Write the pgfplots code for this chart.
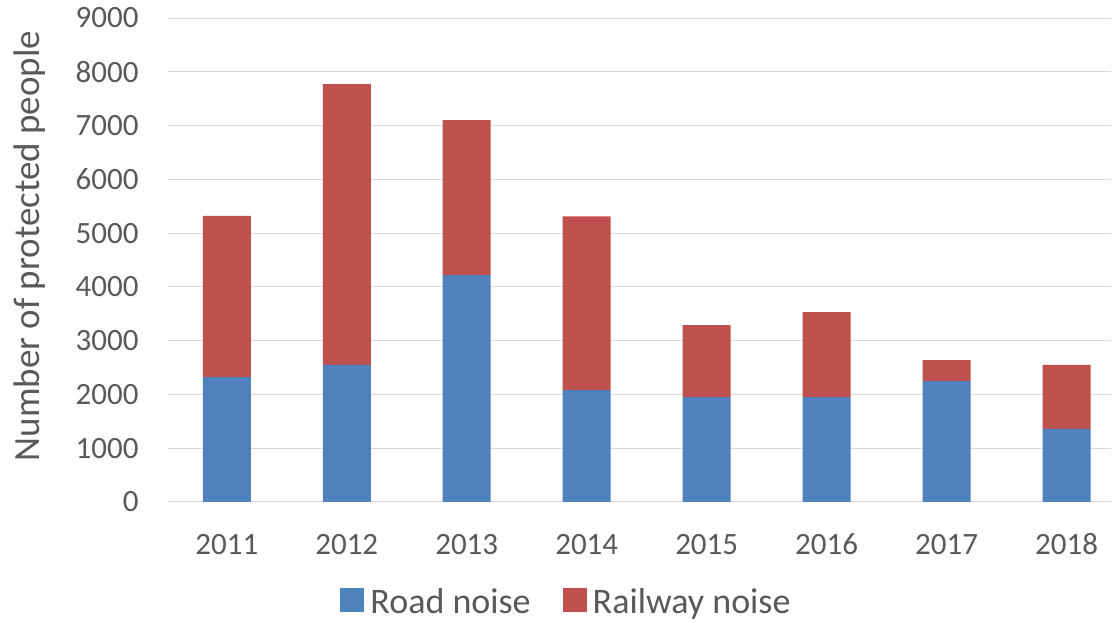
\documentclass[border=0pt]{standalone}
\usepackage{fontspec}
\setmainfont{Carlito}
\usepackage{pgfplots}
\pgfplotsset{compat=1.18}
\definecolor{roadblue}{HTML}{4F81BD}
\definecolor{railred}{HTML}{C0504D}
\definecolor{gridgray}{HTML}{D9D9D9}
\definecolor{txtgray}{HTML}{595959}
\begin{document}
\begin{tikzpicture}
\begin{axis}[
  name=ax,
  at={(0,0)}, anchor=south west,
  scale only axis,
  width=943pt, height=484pt,
  ybar stacked,
  bar width=48pt,
  xmin=-0.49, xmax=7.37,
  ymin=0, ymax=9000,
  ytick={0,1000,...,9000},
  xtick={0,...,7},
  xticklabels={2011,2012,2013,2014,2015,2016,2017,2018},
  ymajorgrids,
  grid style={gridgray, line width=1pt},
  axis x line*=bottom,
  axis y line*=left,
  y axis line style={draw=none},
  x axis line style={gridgray, line width=1pt, -},
  major tick length=0pt,
  /pgf/number format/assume math mode=true,
  /pgf/number format/1000 sep={},
  tick label style={font=\fontsize{31}{36}\selectfont, text=txtgray},
  yticklabel style={xshift=-26pt},
  xticklabel style={yshift=-28pt, text height=21pt, text depth=0pt},
  ylabel={Number of protected people},
  every axis y label/.style={at={(axis description cs:0,0.5)}, xshift=-138pt, yshift=14pt, rotate=90, anchor=center, font=\fontsize{37}{40}\selectfont, text=txtgray},
  legend style={draw=none, fill=none, inner sep=0pt, at={(0.4226,-0.206)}, anchor=center, font=\fontsize{36}{40}\selectfont, text=txtgray, legend columns=2, /tikz/every even column/.append style={column sep=30pt}},
  legend image code/.code={\fill[#1] (0pt,-10pt) rectangle (24pt,14pt); \path (0pt,0pt) -- (28pt,0pt);},
]
\addplot[fill=roadblue, draw=none] coordinates {(0,2320) (1,2550) (2,4220) (3,2080) (4,1950) (5,1950) (6,2250) (7,1360)};
\addplot[fill=railred, draw=none] coordinates {(0,3000) (1,5220) (2,2880) (3,3230) (4,1340) (5,1580) (6,390) (7,1190)};
\legend{Road noise, Railway noise}
\end{axis}
\path (ax.south west) ++(-168pt,-121pt) rectangle ++(1119pt,623pt);
\end{tikzpicture}
\end{document}
